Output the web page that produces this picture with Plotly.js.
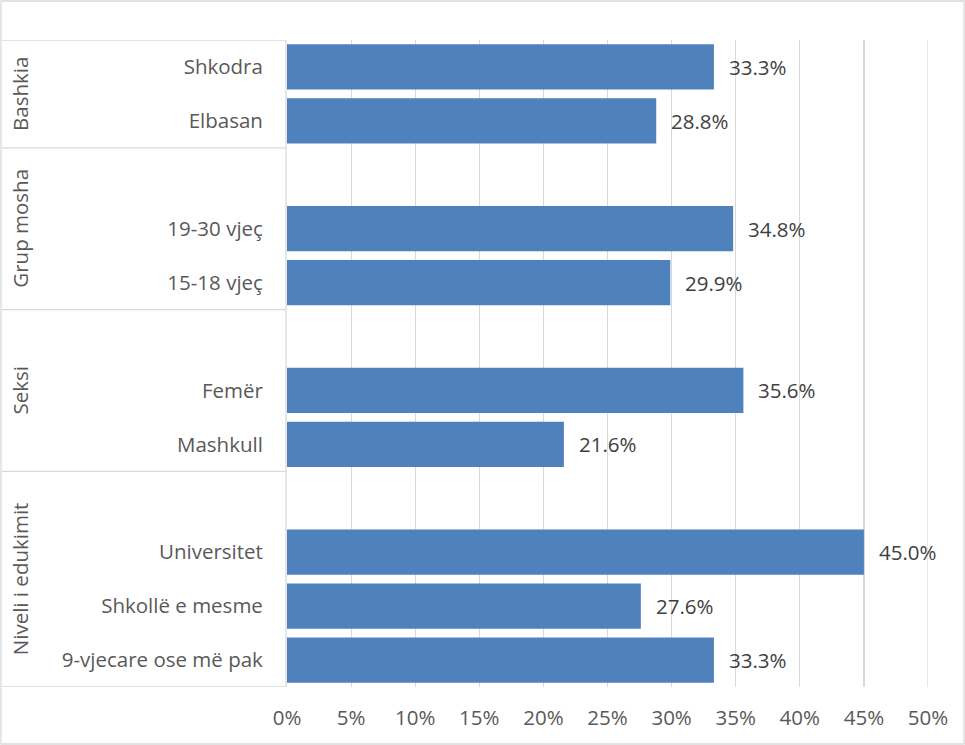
<!DOCTYPE html>
<html>
<head>
<meta charset="utf-8">
<script src="https://cdn.plot.ly/plotly-3.0.1.min.js"></script>
<style>
  html, body { margin: 0; padding: 0; background: #ffffff; }
  #chart { width: 965px; height: 745px; }
</style>
</head>
<body>
<div id="chart"></div>
<script>
// ---- Data (top to bottom; blank entries are empty spacer rows) ----
const categories = ["Shkodra", "Elbasan", " ", "19-30 vjeç", "15-18 vjeç", "  ", "Femër", "Mashkull", "   ", "Universitet", "Shkollë e mesme", "9-vjecare ose më pak"];
const values = [33.3, 28.8, null, 34.8, 29.9, null, 35.6, 21.6, null, 45.0, 27.6, 33.3];
const groupNames = ["Bashkia", "Grup mosha", "Seksi", "Niveli i edukimit"];
const groupSizes = [2, 3, 3, 4];
const xTickVals = [0, 5, 10, 15, 20, 25, 30, 35, 40, 45, 50];
const xTickText = ["0%", "5%", "10%", "15%", "20%", "25%", "30%", "35%", "40%", "45%", "50%"];

// ---- Layout geometry ----
const W = 965, H = 745, ML = 287, MR = 37, MT = 40, MB = 58;
const plotW = W - ML - MR, plotH = H - MT - MB;
const pxX = px => (px - ML) / plotW;
const pxY = py => (H - MB - py) / plotH;

const FONT = "Open Sans, Liberation Sans, Arial, sans-serif";
const FS = 20.5;
const gridCol = "#d9d9d9";

const shapes = [];
const annotations = [];

// outer chart border
shapes.push({type: "rect", xref: "paper", yref: "paper",
  x0: pxX(1), x1: pxX(964), y0: pxY(744), y1: pxY(1),
  line: {color: gridCol, width: 1.3}, fillcolor: "rgba(0,0,0,0)", layer: "above"});

// category box: right edge
shapes.push({type: "line", xref: "paper", yref: "y",
  x0: pxX(286), x1: pxX(286), y0: -0.5, y1: categories.length - 0.5,
  line: {color: gridCol, width: 1.3}, layer: "below"});

// last gridline at the right edge of the plot
shapes.push({type: "line", xref: "x", yref: "y",
  x0: xTickVals[xTickVals.length - 1], x1: xTickVals[xTickVals.length - 1],
  y0: -0.5, y1: categories.length - 0.5,
  line: {color: gridCol, width: 1.3}, layer: "below"});

// group separators and group labels
let start = 0;
const bounds = [-0.5];
groupSizes.forEach((n, i) => {
  const center = start + (n - 1) / 2;
  annotations.push({xref: "paper", yref: "y", x: pxX(20), y: center,
    text: groupNames[i], textangle: -90, showarrow: false,
    xanchor: "center", yanchor: "middle",
    font: {family: FONT, size: FS, color: "#595959"}});
  start += n;
  bounds.push(start - 0.5);
});
bounds.forEach(b => {
  shapes.push({type: "line", xref: "paper", yref: "y",
    x0: pxX(2), x1: pxX(286), y0: b, y1: b,
    line: {color: gridCol, width: 1.3}});
});

// data labels
categories.forEach((c, i) => {
  if (values[i] === null) return;
  annotations.push({xref: "x", yref: "y", x: values[i], y: c,
    text: values[i].toFixed(1) + "%", showarrow: false,
    xanchor: "left", yanchor: "middle", xshift: 13,
    font: {family: FONT, size: FS, color: "#404040"}});
});

const trace = {
  type: "bar", orientation: "h",
  x: values, y: categories,
  marker: {color: "#4f81bd", line: {width: 0}},
  hoverinfo: "x+y"
};

const layout = {
  width: W, height: H,
  margin: {l: ML, r: MR, t: MT, b: MB, pad: 0},
  paper_bgcolor: "#ffffff", plot_bgcolor: "#ffffff",
  showlegend: false,
  bargap: 0.16,
  font: {family: FONT, color: "#595959", size: FS},
  xaxis: {
    range: [0, 50], tickmode: "array", tickvals: xTickVals, ticktext: xTickText,
    showgrid: true, gridcolor: gridCol, gridwidth: 1.2,
    zeroline: false, showline: false,
    ticks: "outside", ticklen: 12, tickcolor: "rgba(0,0,0,0)",
    tickfont: {family: FONT, size: FS, color: "#595959"},
    fixedrange: true
  },
  yaxis: {
    type: "category", categoryorder: "array", categoryarray: categories,
    range: [categories.length - 0.5, -0.5],
    showgrid: false, zeroline: false, showline: false,
    ticks: "outside", ticklen: 19, tickcolor: "rgba(0,0,0,0)",
    tickfont: {family: FONT, size: FS, color: "#595959"},
    fixedrange: true
  },
  shapes: shapes,
  annotations: annotations
};

Plotly.newPlot("chart", [trace], layout, {displayModeBar: false, staticPlot: true});
</script>
</body>
</html>
